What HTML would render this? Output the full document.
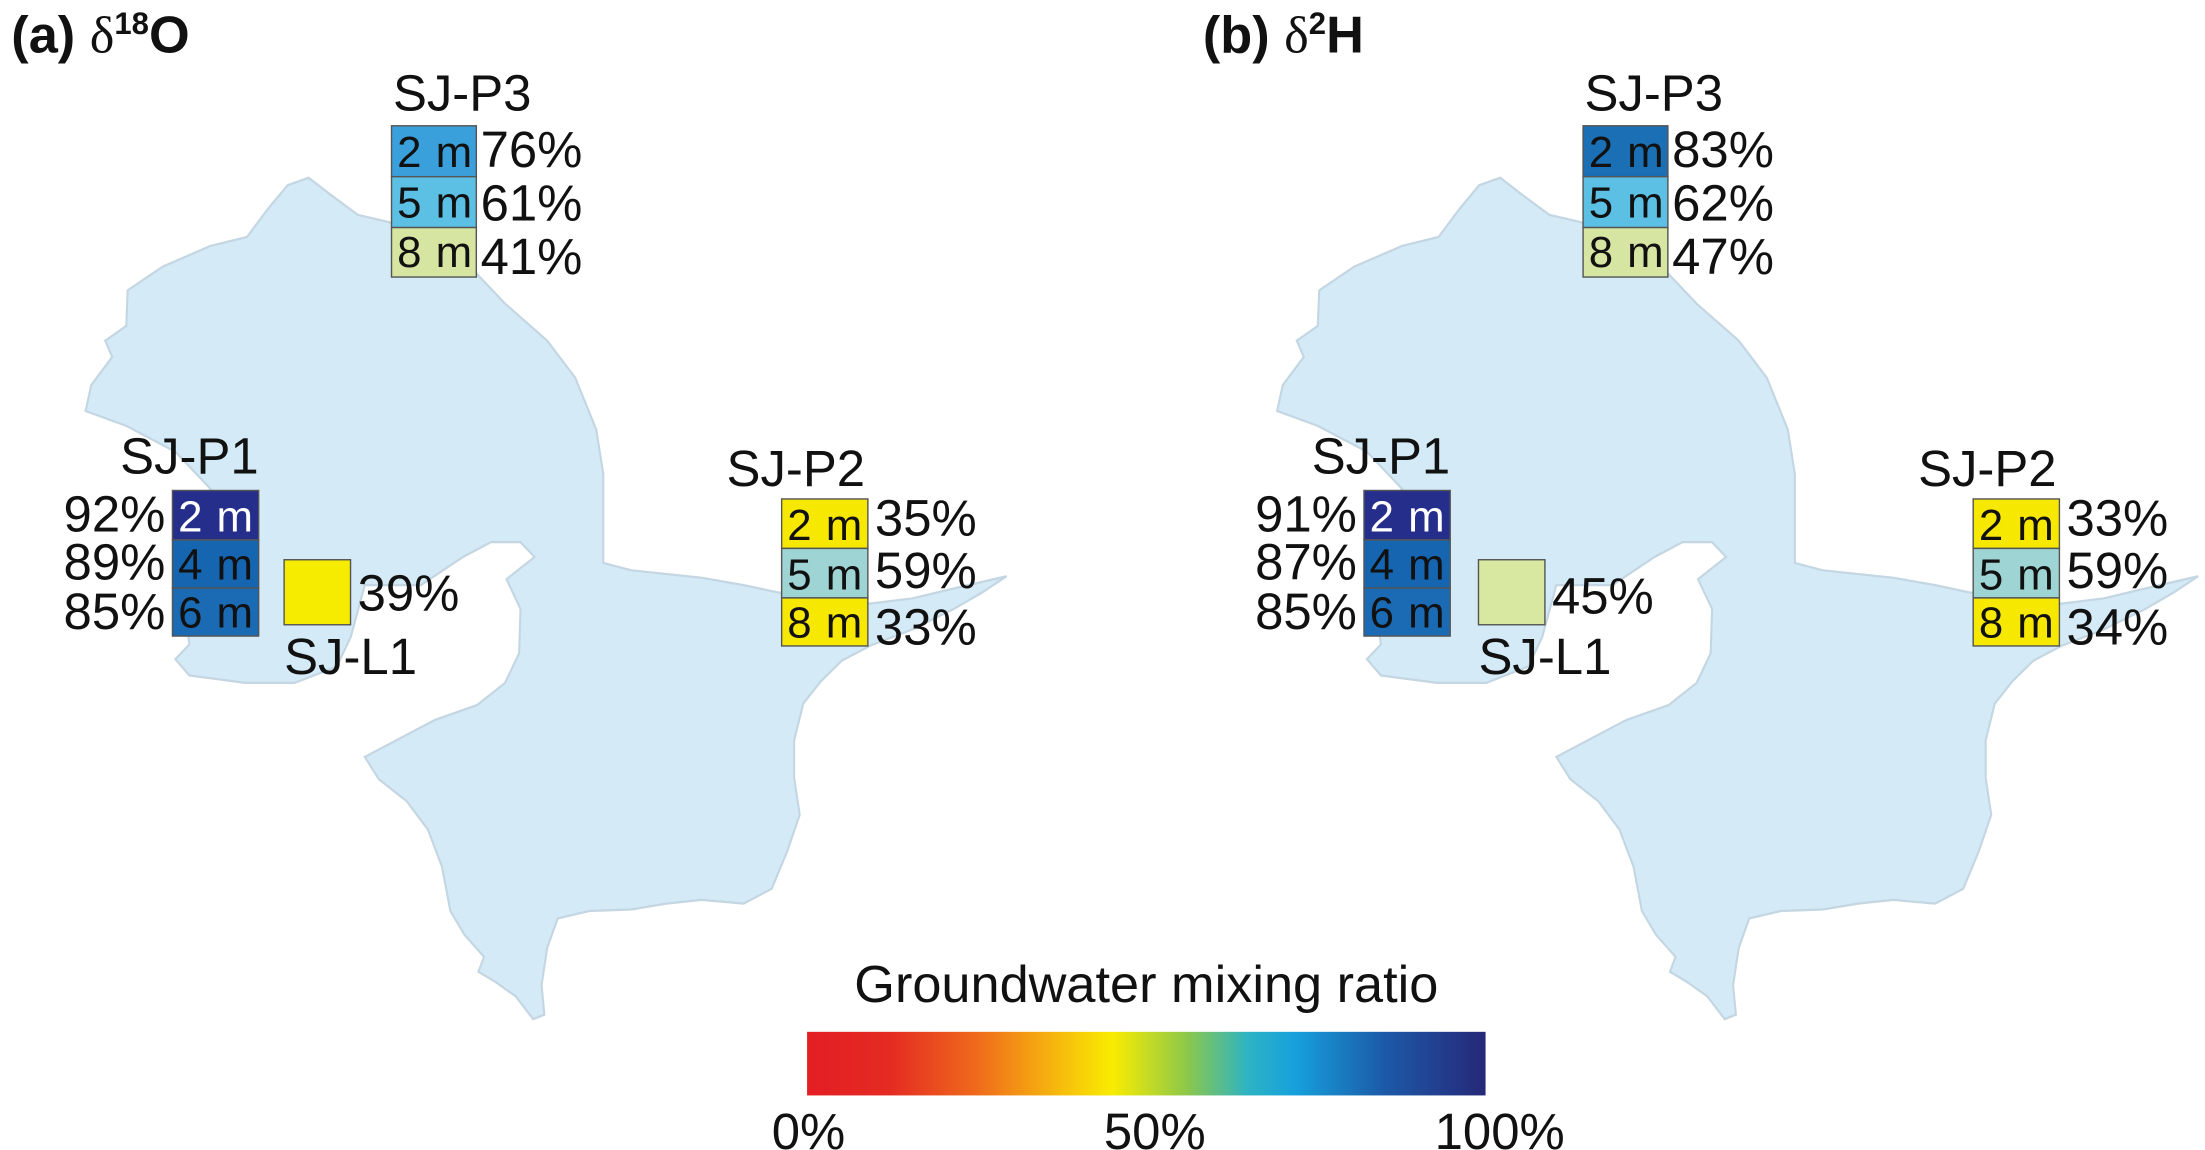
<!DOCTYPE html>
<html><head><meta charset="utf-8"><style>
html,body{margin:0;padding:0;background:#fff;}
svg{display:block;}
text{font-family:"Liberation Sans",Arial,sans-serif;fill:#111;}
text.w{fill:#fff;}
tspan.d{font-family:"Liberation Serif",serif;font-weight:normal;}
</style></head><body>
<svg width="2205" height="1150" viewBox="0 0 1560 813.6" xmlns="http://www.w3.org/2000/svg">
<defs>
<path id="lake" d="M410,250 L440,240 L470,262 L510,290 L555,300 L680,370 L720,410 L780,460 L820,510 L850,580 L860,640 L860,760 L900,770 L1000,780 L1060,790 L1110,800 L1240,815 L1300,808 L1380,790 L1435,778 L1400,800 L1360,822 L1300,850 L1240,872 L1200,892 L1170,920 L1145,950 L1132,1000 L1132,1050 L1140,1100 L1122,1150 L1100,1200 L1060,1220 L1000,1215 L950,1220 L900,1228 L840,1230 L795,1240 L780,1280 L772,1330 L776,1370 L760,1376 L735,1345 L705,1325 L682,1312 L690,1292 L662,1262 L642,1230 L630,1170 L610,1120 L580,1082 L540,1052 L520,1022 L560,1002 L620,972 L680,952 L720,922 L740,882 L742,822 L722,782 L762,752 L742,732 L700,732 L660,752 L600,790 L520,790 L500,860 L480,900 L420,922 L350,922 L270,912 L250,890 L270,870 L250,740 L300,660 L250,610 L180,575 L122,555 L130,520 L160,482 L150,460 L180,440 L182,392 L232,360 L300,332 L352,320 L382,282 Z"/>
<linearGradient id="cb" x1="0" x2="1" y1="0" y2="0">
<stop offset="0" stop-color="#e31e24"/><stop offset="0.12" stop-color="#e42a22"/>
<stop offset="0.25" stop-color="#ef6a1c"/><stop offset="0.38" stop-color="#f7c00c"/>
<stop offset="0.45" stop-color="#f9ec00"/><stop offset="0.56" stop-color="#8cc84a"/>
<stop offset="0.65" stop-color="#2db3c4"/><stop offset="0.72" stop-color="#16a0dc"/>
<stop offset="0.85" stop-color="#1c5aa8"/><stop offset="1" stop-color="#262878"/>
</linearGradient>
</defs>

<g transform="scale(0.4963,0.524)"><use href="#lake" fill="#d4eaf6" stroke="#c4d6e2" stroke-width="3"/></g>
<g transform="translate(843,0) scale(0.4963,0.524)"><use href="#lake" fill="#d4eaf6" stroke="#c4d6e2" stroke-width="3"/></g>

<text x="8" y="37" font-weight="bold" font-size="37">(a) <tspan class="d">δ</tspan><tspan font-size="22" dy="-13">18</tspan><tspan dy="13">O</tspan></text>
<text x="851" y="37" font-weight="bold" font-size="37">(b) <tspan class="d">δ</tspan><tspan font-size="22" dy="-13">2</tspan><tspan dy="13">H</tspan></text>

<g stroke="#555" stroke-width="1">
<rect x="277" y="89" width="60" height="36" fill="#3aa0dc"/>
<rect x="277" y="125" width="60" height="36" fill="#5cc0e4"/>
<rect x="277" y="161" width="60" height="35" fill="#d6e6a2"/>
<rect x="122" y="347" width="61" height="35" fill="#262e8c"/>
<rect x="122" y="382" width="61" height="34" fill="#1565b0"/>
<rect x="122" y="416" width="61" height="34" fill="#1a6ab4"/>
<rect x="201" y="396" width="47" height="46" fill="#f5ec00"/>
<rect x="553" y="353" width="61" height="35" fill="#f7e800"/>
<rect x="553" y="388" width="61" height="35" fill="#9ed4d4"/>
<rect x="553" y="423" width="61" height="34" fill="#f7e800"/>
<rect x="1120" y="89" width="60" height="36" fill="#1b6fb5"/>
<rect x="1120" y="125" width="60" height="36" fill="#5cc0e4"/>
<rect x="1120" y="161" width="60" height="35" fill="#d6e6a2"/>
<rect x="965" y="347" width="61" height="35" fill="#262e8c"/>
<rect x="965" y="382" width="61" height="34" fill="#1565b0"/>
<rect x="965" y="416" width="61" height="34" fill="#1a6ab4"/>
<rect x="1046" y="396" width="47" height="46" fill="#d8e8a0"/>
<rect x="1396" y="353" width="61" height="35" fill="#f7e800"/>
<rect x="1396" y="388" width="61" height="35" fill="#9ed4d4"/>
<rect x="1396" y="423" width="61" height="34" fill="#f7e800"/>
</g>

<g font-size="31">
<text x="281" y="118" textLength="53">2 m</text><text x="281" y="154" textLength="53">5 m</text><text x="281" y="189" textLength="53">8 m</text>
<text class="w" x="126" y="376" textLength="53">2 m</text><text x="126" y="410" textLength="53">4 m</text><text x="126" y="444" textLength="53">6 m</text>
<text x="557" y="382" textLength="53">2 m</text><text x="557" y="417" textLength="53">5 m</text><text x="557" y="451" textLength="53">8 m</text>
<text x="1124" y="118" textLength="53">2 m</text><text x="1124" y="154" textLength="53">5 m</text><text x="1124" y="189" textLength="53">8 m</text>
<text class="w" x="969" y="376" textLength="53">2 m</text><text x="969" y="410" textLength="53">4 m</text><text x="969" y="444" textLength="53">6 m</text>
<text x="1400" y="382" textLength="53">2 m</text><text x="1400" y="417" textLength="53">5 m</text><text x="1400" y="451" textLength="53">8 m</text>
</g>

<g font-size="36">
<text x="278" y="78">SJ-P3</text>
<text x="340" y="118">76%</text><text x="340" y="156">61%</text><text x="340" y="194">41%</text>
<text x="85" y="335">SJ-P1</text>
<text x="117" y="376" text-anchor="end">92%</text><text x="117" y="410" text-anchor="end">89%</text><text x="117" y="445" text-anchor="end">85%</text>
<text x="253" y="432">39%</text><text x="201" y="477">SJ-L1</text>
<text x="514" y="344">SJ-P2</text>
<text x="619" y="379">35%</text><text x="619" y="416">59%</text><text x="619" y="456">33%</text>
<text x="1121" y="78">SJ-P3</text>
<text x="1183" y="118">83%</text><text x="1183" y="156">62%</text><text x="1183" y="194">47%</text>
<text x="928" y="335">SJ-P1</text>
<text x="960" y="376" text-anchor="end">91%</text><text x="960" y="410" text-anchor="end">87%</text><text x="960" y="445" text-anchor="end">85%</text>
<text x="1098" y="434">45%</text><text x="1046" y="477">SJ-L1</text>
<text x="1357" y="344">SJ-P2</text>
<text x="1462" y="379">33%</text><text x="1462" y="416">59%</text><text x="1462" y="456">34%</text>
</g>

<text x="811" y="709" font-size="37" text-anchor="middle">Groundwater mixing ratio</text>
<rect x="571" y="730" width="480" height="45" fill="url(#cb)"/>
<g font-size="36" text-anchor="middle">
<text x="572" y="813">0%</text><text x="817" y="813">50%</text><text x="1061" y="813">100%</text>
</g>
</svg>
</body></html>
